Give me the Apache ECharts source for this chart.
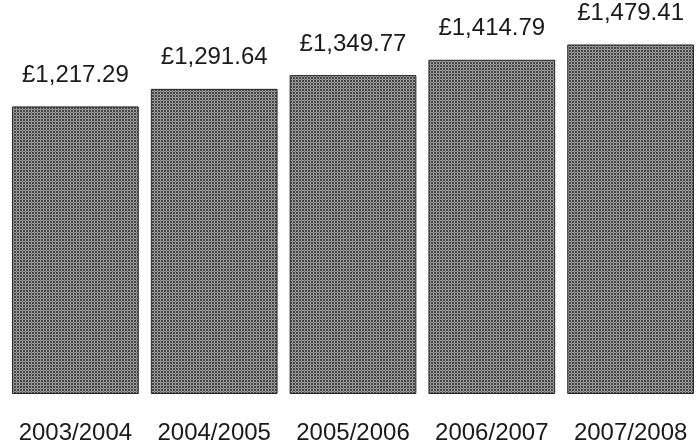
<!DOCTYPE html>
<html>
<head>
<meta charset="utf-8">
<script src="https://cdn.jsdelivr.net/npm/echarts@6/dist/echarts.min.js"></script>
<style>html,body{margin:0;padding:0;background:#fff}#c{width:700px;height:448px}</style>
</head>
<body>
<div id="c"></div>
<script>
const categories = ['2003/2004', '2004/2005', '2005/2006', '2006/2007', '2007/2008'];
const values = [1217.29, 1291.64, 1349.77, 1414.79, 1479.41];

function makePattern() {
  const c = document.createElement('canvas');
  c.width = 3; c.height = 3;
  const g = c.getContext('2d');
  g.fillStyle = '#454545'; g.fillRect(0, 0, 3, 3);
  g.fillStyle = '#a0a0a0';
  g.fillRect(1, 0, 1, 1); g.fillRect(0, 1, 1, 1); g.fillRect(2, 1, 1, 1); g.fillRect(1, 2, 1, 1);
  g.fillStyle = '#707070';
  g.fillRect(1, 1, 1, 1);
  return c;
}

const chart = echarts.init(document.getElementById('c'));
chart.setOption({
  animation: false,
  grid: { left: 6, right: -1.5, top: 16, bottom: 54, containLabel: false },
  xAxis: {
    type: 'category', data: categories,
    axisLine: { show: false }, axisTick: { show: false },
    axisLabel: { interval: 0, fontFamily: 'Liberation Sans, Arial', fontSize: 24, color: '#1a1a1a', margin: 27 }
  },
  yAxis: { type: 'value', min: 0, max: 1600, show: false, splitLine: { show: false } },
  series: [{
    type: 'bar', data: values, barCategoryGap: '8.7%',
    itemStyle: { color: { image: makePattern(), repeat: 'repeat' }, borderColor: '#262626', borderWidth: 1 },
    label: {
      show: true, position: 'top', distance: 19,
      fontFamily: 'Liberation Sans, Arial', fontSize: 24, color: '#1a1a1a',
      formatter: p => '£' + p.value.toLocaleString('en-GB', { minimumFractionDigits: 2, maximumFractionDigits: 2 })
    }
  }]
});
</script>
</body>
</html>
